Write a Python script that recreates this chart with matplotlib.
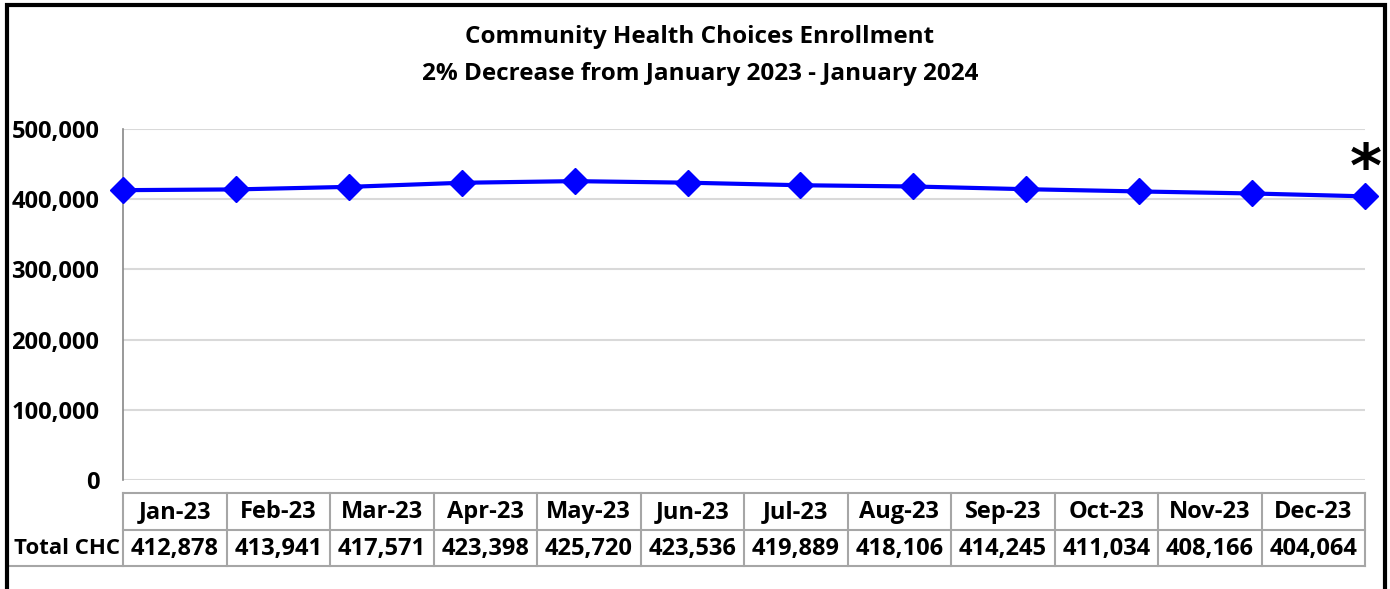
import matplotlib.pyplot as plt
import matplotlib.patches as mpatches
from matplotlib.ticker import FuncFormatter, MultipleLocator

months = ['Jan-23', 'Feb-23', 'Mar-23', 'Apr-23', 'May-23', 'Jun-23',
          'Jul-23', 'Aug-23', 'Sep-23', 'Oct-23', 'Nov-23', 'Dec-23']
total_chc = [412878, 413941, 417571, 423398, 425720, 423536,
             419889, 418106, 414245, 411034, 408166, 404064]
row_label = 'Total CHC'
title_lines = ['Community Health Choices Enrollment',
               '2% Decrease from January 2023 - January 2024']

plt.rcParams['font.family'] = ['Open Sans', 'DejaVu Sans']
plt.rcParams['font.weight'] = 'bold'

W, H = 1390, 589
fig = plt.figure(figsize=(W / 100, H / 100), dpi=100)


def fx(px):
    return px / W


def fy(py):
    return 1 - py / H


# outer frame (bottom edge runs off the image)
fig.add_artist(mpatches.Rectangle((fx(7), -0.1), fx(1385) - fx(7), fy(5) + 0.1,
                                  transform=fig.transFigure, fill=False,
                                  edgecolor='black', linewidth=3))

for k, line in enumerate(title_lines):
    fig.text(fx(700), fy(37 + 37 * k), line, ha='center', va='center',
             fontsize=17.5, fontweight='bold')

# line chart
L, R, T, B = 123, 1365, 129, 480
ax = fig.add_axes([fx(L), fy(B), fx(R) - fx(L), fy(T) - fy(B)])
x = list(range(len(months)))
ax.plot(x, total_chc, color='#0000ff', linewidth=3, marker='D',
        markersize=13, zorder=3, clip_on=False)
ax.set_xlim(0, len(months) - 1)
ax.set_ylim(0, 500000)
ax.yaxis.set_major_locator(MultipleLocator(100000))
ax.yaxis.set_major_formatter(FuncFormatter(lambda v, p: f'{int(v):,}'))
ax.grid(axis='y', color='#d9d9d9', linewidth=1.5)
ax.set_axisbelow(True)
ax.set_xticks([])
for s in ['top', 'right', 'bottom']:
    ax.spines[s].set_visible(False)
ax.spines['left'].set_color('#888888')
ax.spines['left'].set_linewidth(1.2)
ax.tick_params(axis='y', length=0, pad=17, labelsize=17)
for lab in ax.get_yticklabels():
    lab.set_fontweight('bold')

# footnote marker above the last point
fig.text(fx(1366), fy(187), '*', ha='center', va='baseline', fontsize=44,
         fontweight='bold', family='DejaVu Sans')

# data table
TL, TT, TM, TB = 8, 493, 530, 566
tax = fig.add_axes([fx(TL), fy(TB), fx(R) - fx(TL), fy(TT) - fy(TB)])
tax.set_xlim(TL, R)
tax.set_ylim(TB, TT)
tax.axis('off')
n = len(months)
cw = (R - L) / n
edges = [L + i * cw for i in range(n + 1)]
gc = '#a6a6a6'
for e in edges:
    tax.plot([e, e], [TT, TB], color=gc, lw=1.5, clip_on=False)
tax.plot([L, R], [TT, TT], color=gc, lw=1.5, clip_on=False)
tax.plot([L, R], [TM, TM], color=gc, lw=1.5, clip_on=False)
tax.plot([TL + 2, R], [TB, TB], color=gc, lw=1.5, clip_on=False)
for i, (m, v) in enumerate(zip(months, total_chc)):
    cx = edges[i] + cw / 2
    tax.text(cx, (TT + TM) / 2 + 1, m, ha='center', va='center',
             fontsize=17, fontweight='bold')
    tax.text(cx, (TM + TB) / 2 + 1, f'{v:,}', ha='center', va='center',
             fontsize=17, fontweight='bold')
tax.text((TL + L) / 2 + 1, (TM + TB) / 2 + 1, row_label, ha='center',
         va='center', fontsize=16, fontweight='bold')

fig.savefig('out.png', dpi=100)
